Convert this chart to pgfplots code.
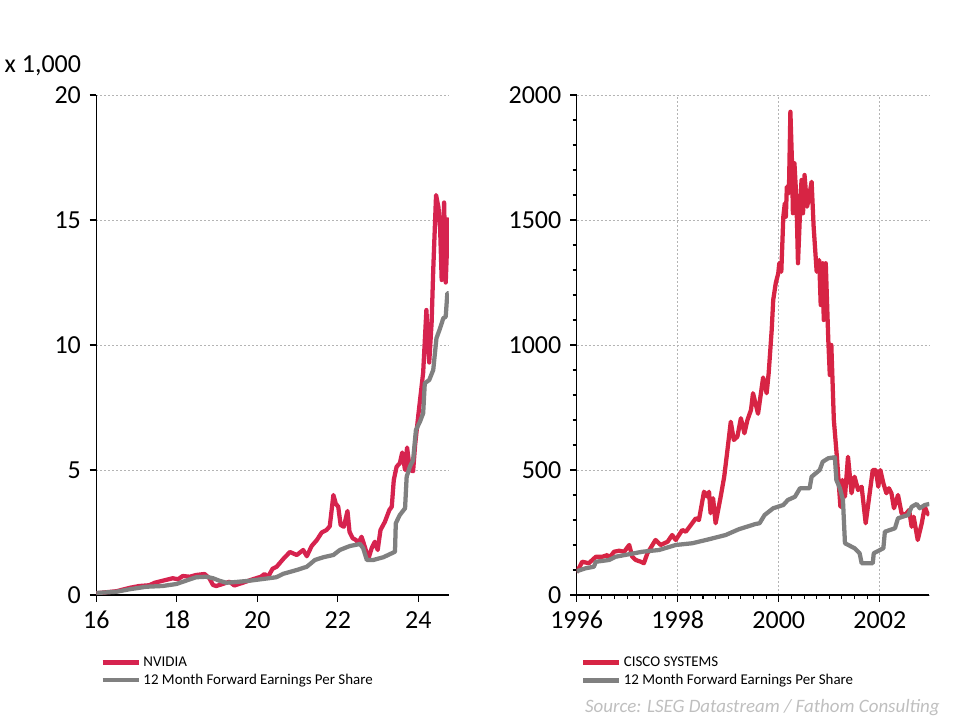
\documentclass[border=0pt]{standalone}
\usepackage{fontspec}
\setmainfont{Carlito}
\usepackage{pgfplots}
\pgfplotsset{compat=1.18}
\definecolor{nvred}{HTML}{D6234F}
\definecolor{csred}{HTML}{D72444}
\definecolor{epsgray}{HTML}{808080}
\definecolor{gridgray}{HTML}{B4B4B4}
\definecolor{srcgray}{HTML}{BFBFBF}
\pgfplotsset{
  panel/.style={
    scale only axis, width=264.5pt, height=375pt,
    axis x line*=bottom, axis y line*=left,
    axis line style={line width=0.9pt, black, -},
    tick align=outside, tick style={black, line width=0.8pt},
    major tick length=5pt, minor tick length=3pt,
    ymin=0,
    ymajorgrids,
    grid style={gridgray, dash pattern=on 1.5pt off 1.5pt, line width=0.6pt},
    tick label style={font=\fontsize{19.5}{20}\selectfont},
    /pgf/number format/assume math mode=true,
    /pgf/number format/1000 sep={},
    yticklabel style={xshift=-3pt},
    xticklabel style={yshift=-3pt, text height=13.5pt, text depth=0pt},
    legend style={draw=none, fill=none, font=\fontsize{11.2}{13}\selectfont,
      at={(0.0,-0.112)}, anchor=north west, row sep=0.5pt},
    legend cell align=left,
    legend image code/.code={\draw[##1] (0pt,0pt) -- (27pt,0pt);},
  },
  series/.style={line width=3.2pt, line join=round},
}
\begin{document}
\begin{tikzpicture}
\path (0,0) rectangle (720pt,540pt);
\node[anchor=west, font=\fontsize{19.5}{20}\selectfont] at (0pt,490.5pt) {x 1,000};
\node[anchor=east, inner sep=0pt, text=srcgray, font=\fontsize{14.2}{15}\selectfont\itshape] at (705pt,9pt) {Source: LSEG Datastream / Fathom Consulting};

\begin{axis}[panel, at={(72.2pt,93.75pt)}, anchor=south west,
  xmin=16, xmax=24.76, ymax=20,
  xtick={16,18,20,22,24}, ytick={0,5,10,15,20}]
\addplot[series, nvred] coordinates {
(16.0,0.07) (16.5,0.15) (16.84,0.29) (17.07,0.36) (17.32,0.39) (17.45,0.49)
(17.65,0.57) (17.9,0.67) (18.03,0.63) (18.15,0.76) (18.32,0.73) (18.48,0.80)
(18.69,0.84) (18.81,0.67) (18.9,0.40) (18.98,0.36) (19.14,0.44) (19.31,0.53)
(19.43,0.38) (19.64,0.49) (19.89,0.63) (20.09,0.73) (20.18,0.84) (20.26,0.71)
(20.38,1.05) (20.48,1.13) (20.65,1.45) (20.81,1.72) (20.98,1.6) (21.14,1.8)
(21.23,1.55) (21.35,1.96) (21.48,2.2) (21.6,2.5) (21.72,2.6) (21.8,2.75)
(21.89,4.0) (21.95,3.65) (22.01,3.53) (22.07,2.8) (22.15,2.73) (22.24,3.36)
(22.29,2.53) (22.37,2.27) (22.45,2.2) (22.51,2.07) (22.59,2.33) (22.67,1.93)
(22.76,1.45) (22.84,1.87) (22.92,2.13) (22.99,1.8) (23.06,2.6) (23.17,2.93)
(23.28,3.4) (23.34,3.53) (23.39,4.6) (23.46,5.13) (23.54,5.27) (23.6,5.7)
(23.67,5.0) (23.72,5.9) (23.79,5.0) (23.87,4.95) (23.92,6.0) (24.0,7.2)
(24.12,8.9) (24.2,11.4) (24.27,9.3) (24.33,10.9) (24.37,13.0) (24.44,16.0)
(24.5,15.5) (24.54,14.7) (24.58,12.6) (24.64,15.7) (24.68,12.5) (24.74,15.1)
};
\addlegendentry{NVIDIA}
\addplot[series, epsgray] coordinates {
(16.0,0.08) (16.5,0.13) (16.83,0.23) (17.24,0.33) (17.65,0.36) (17.99,0.44)
(18.15,0.53) (18.48,0.71) (18.73,0.73) (18.9,0.67) (19.06,0.57) (19.23,0.49)
(19.47,0.52) (19.8,0.57) (20.14,0.64) (20.47,0.71) (20.65,0.85) (20.98,1.0)
(21.23,1.13) (21.43,1.4) (21.64,1.51) (21.89,1.6) (22.05,1.8) (22.3,1.96)
(22.55,2.04) (22.63,1.87) (22.72,1.4) (22.88,1.4) (23.13,1.51) (23.42,1.73)
(23.44,2.87) (23.54,3.2) (23.67,3.47) (23.71,4.73) (23.79,5.13) (23.87,5.4)
(23.94,6.6) (24.04,6.93) (24.12,7.27) (24.16,8.47) (24.27,8.6) (24.37,9.0)
(24.45,10.27) (24.54,10.67) (24.62,11.07) (24.68,11.13) (24.72,12.07) (24.75,12.07)
};
\addlegendentry{12 Month Forward Earnings Per Share}
\end{axis}

\begin{axis}[panel, at={(432.5pt,93.75pt)}, anchor=south west,
  xmin=1996, xmax=2002.98, ymax=2000,
  xtick={1996,1998,2000,2002}, minor x tick num=7,
  ytick={0,500,1000,1500,2000}, minor y tick num=4,
  xmajorgrids]
\addplot[series, csred] coordinates {
(1996.0,90) (1996.11,133) (1996.24,127) (1996.38,153) (1996.51,153) (1996.61,160)
(1996.64,147) (1996.74,173) (1996.84,177) (1996.94,173) (1997.04,200) (1997.1,153)
(1997.17,140) (1997.27,133) (1997.33,127) (1997.4,167) (1997.56,220) (1997.66,200)
(1997.8,213) (1997.89,240) (1997.96,220) (1998.09,260) (1998.16,253) (1998.26,280)
(1998.36,307) (1998.42,300) (1998.52,413) (1998.59,393) (1998.62,413) (1998.65,327)
(1998.7,387) (1998.75,287) (1998.85,393) (1998.92,473) (1998.98,573) (1999.05,693)
(1999.11,620) (1999.18,633) (1999.25,707) (1999.32,647) (1999.38,700) (1999.45,740)
(1999.49,807) (1999.59,725) (1999.69,870) (1999.76,807) (1999.8,887) (1999.86,1060)
(1999.89,1180) (1999.94,1247) (1999.99,1287) (2000.01,1327) (2000.05,1293) (2000.09,1513)
(2000.12,1567) (2000.14,1513) (2000.16,1633) (2000.2,1607) (2000.23,1933) (2000.26,1740)
(2000.28,1527) (2000.31,1727) (2000.35,1580) (2000.38,1327) (2000.42,1527) (2000.45,1660)
(2000.48,1527) (2000.51,1680) (2000.56,1553) (2000.6,1593) (2000.65,1653) (2000.69,1473)
(2000.75,1293) (2000.8,1340) (2000.83,1160) (2000.87,1327) (2000.89,1100) (2000.93,1327)
(2000.98,1020) (2001.01,880) (2001.04,1000) (2001.09,700) (2001.15,553) (2001.22,353)
(2001.26,460) (2001.31,393) (2001.37,553) (2001.44,407) (2001.5,473) (2001.57,420)
(2001.64,433) (2001.72,287) (2001.79,393) (2001.86,500) (2001.92,500) (2001.97,433)
(2002.01,500) (2002.07,447) (2002.13,407) (2002.18,427) (2002.23,407) (2002.28,347)
(2002.36,400) (2002.43,327) (2002.5,320) (2002.58,340) (2002.63,273) (2002.67,313)
(2002.75,220) (2002.83,287) (2002.89,353) (2002.94,327) (2002.98,320)
};
\addlegendentry{CISCO SYSTEMS}
\addplot[series, epsgray] coordinates {
(1996.0,95) (1996.18,107) (1996.34,113) (1996.38,133) (1996.64,140) (1996.77,153)
(1997.3,173) (1997.63,180) (1997.96,200) (1998.29,207) (1998.62,223) (1998.95,240)
(1999.21,263) (1999.54,284) (1999.62,287) (1999.72,320) (1999.89,347) (2000.09,360)
(2000.18,380) (2000.32,393) (2000.42,427) (2000.61,427) (2000.65,473) (2000.81,500)
(2000.87,533) (2000.98,547) (2001.11,551) (2001.14,460) (2001.21,427) (2001.27,380)
(2001.31,207) (2001.5,187) (2001.6,167) (2001.64,127) (2001.86,127) (2001.88,167)
(2002.07,187) (2002.1,253) (2002.3,267) (2002.36,307) (2002.56,320) (2002.63,353)
(2002.73,364) (2002.79,347) (2002.89,360) (2002.98,364)
};
\addlegendentry{12 Month Forward Earnings Per Share}
\end{axis}
\end{tikzpicture}
\end{document}
